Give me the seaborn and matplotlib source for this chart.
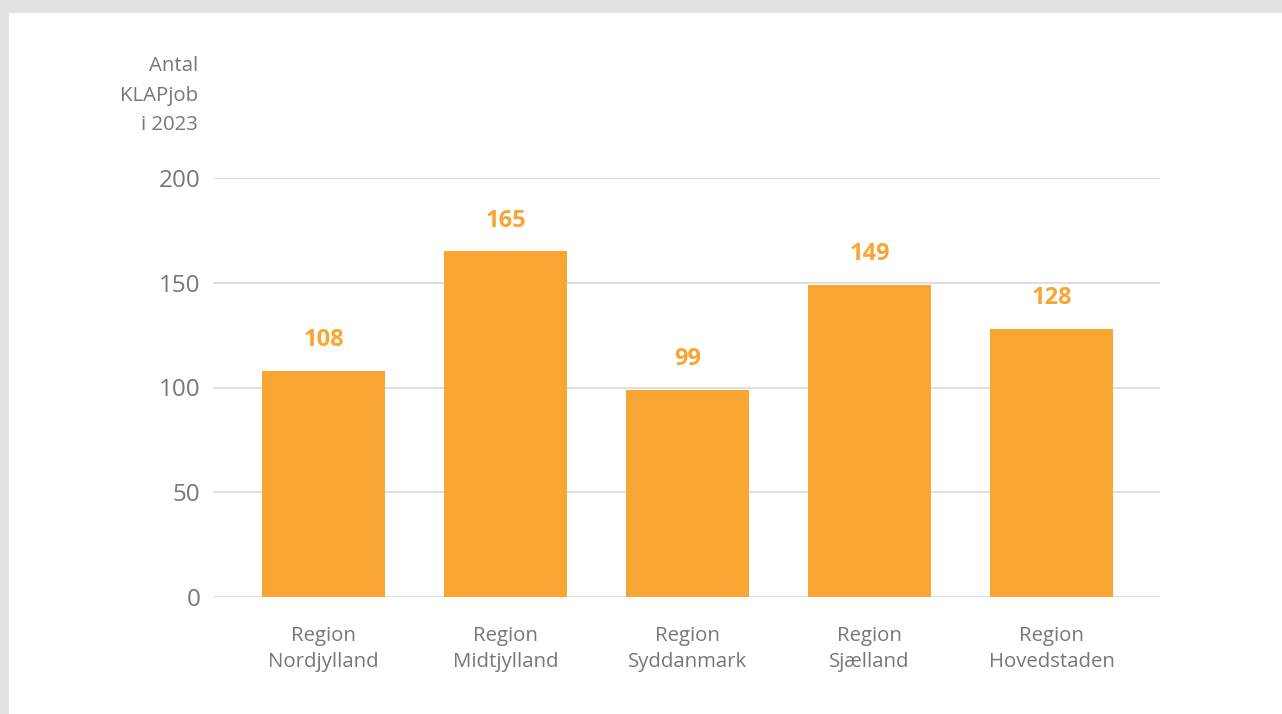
import matplotlib.pyplot as plt
import matplotlib.patches as mpatches
import pandas as pd
import seaborn as sns

regions = ["Region\nNordjylland", "Region\nMidtjylland", "Region\nSyddanmark",
           "Region\nSjælland", "Region\nHovedstaden"]
klapjob = [108, 165, 99, 149, 128]
yticks = [0, 50, 100, 150, 200]

orange = "#F9A533"
grey_txt = "#76777a"
grid_col = "#d9d9d9"

df = pd.DataFrame({"region": regions, "antal": klapjob})

sns.set_theme(style="white")
plt.rcParams['font.family'] = ['Open Sans', 'DejaVu Sans']

fig = plt.figure(figsize=(12.82, 7.14), dpi=100)
fig.patch.set_facecolor("#e1e2e4")
# white card inside the grey frame
card = mpatches.Rectangle((9 / 1282, 0), 1, 1 - 13 / 714, transform=fig.transFigure,
                          facecolor="white", edgecolor="none", zorder=-10)
fig.add_artist(card)

ax = fig.add_axes([213 / 1282, 1 - 597 / 714, (1160 - 213) / 1282, (597 - 178) / 714])
ax.set_facecolor("none")

sns.barplot(x="region", y="antal", data=df, color=orange, saturation=1, width=0.676,
            linewidth=0, ax=ax, zorder=3)

ax.set_ylim(0, 200)
ax.set_xlim(-0.607, 4.596)
ax.set_yticks(yticks)
for y in yticks:
    ax.axhline(y, color=grid_col, lw=1.2, zorder=1)
for s in ax.spines.values():
    s.set_visible(False)

ax.tick_params(axis="y", length=0, pad=9, labelsize=17.5, labelcolor=grey_txt)
ax.tick_params(axis="x", length=0, pad=21, labelsize=14.7, labelcolor=grey_txt)
for lbl in ax.get_xticklabels():
    lbl.set_linespacing(1.38)
ax.set_xlabel("")
ax.set_ylabel("")

for i, v in enumerate(klapjob):
    ax.annotate(str(v), (i, v), xytext=(0, 22), textcoords="offset points",
                ha="center", va="center", fontsize=17, fontweight="bold", color=orange)

fig.text(198 / 1282, 1 - 56 / 714, "Antal\nKLAPjob\ni 2023", ha="right", va="top",
         fontsize=14.7, color=grey_txt, linespacing=1.64)

fig.savefig("out.png", dpi=100, facecolor=fig.get_facecolor())
